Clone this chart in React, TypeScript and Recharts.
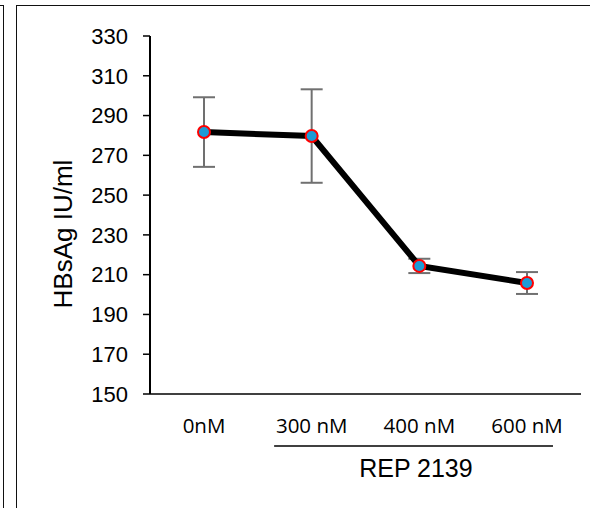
import React from 'react';
import { ComposedChart, Line, XAxis, YAxis, ErrorBar } from 'recharts';

const categories = ['0nM', '300 nM', '400 nM', '600 nM'];
const hbsagValues = [281.7, 279.7, 214.4, 205.8];
const errorValues = [17.5, 23.5, 3.6, 5.5];
const yTicks = [150, 170, 190, 210, 230, 250, 270, 290, 310, 330];
const yAxisTitle = 'HBsAg IU/ml';
const groupTitle = 'REP 2139';

const data = categories.map((c, i) => ({ name: c, value: hbsagValues[i], err: errorValues[i] }));

const XTick = (props: any) => {
  const { x, y, payload } = props;
  return (
    <text x={x} y={y} dy={39} textAnchor="middle" fontFamily="Open Sans" fontSize={20.5} fill="#000">
      {payload.value}
    </text>
  );
};

const XLabel = (props: any) => {
  const vb = props.viewBox || {};
  const x0 = vb.x + vb.width * 0.288;
  const x1 = vb.x + vb.width * 0.935;
  const ly = vb.y + 52;
  return (
    <g>
      <line x1={x0} x2={x1} y1={ly} y2={ly} stroke="#000" strokeWidth={1.5} />
      <text x={vb.x + vb.width * 0.617} y={vb.y + 83} textAnchor="middle" fontFamily="Liberation Sans" fontSize={25} fill="#000">
        {groupTitle}
      </text>
    </g>
  );
};

const YLabel = (props: any) => {
  const vb = props.viewBox || {};
  const cx = vb.x + 72;
  const cy = vb.y + vb.height / 2 + 19;
  return (
    <text x={cx} y={cy} transform={`rotate(-90, ${cx}, ${cy})`} textAnchor="middle" fontFamily="Liberation Sans" fontSize={26} fill="#000">
      {yAxisTitle}
    </text>
  );
};

export default function App() {
  return (
    <div style={{ position: 'absolute', left: 0, top: 0, width: 590, height: 508, background: '#fff', overflow: 'hidden' }}>
      <div style={{ position: 'absolute', left: -20, top: 5, width: 24, height: 600, border: '1.5px solid #111', boxSizing: 'border-box' }} />
      <div style={{ position: 'absolute', left: 16, top: 5, width: 700, height: 700, border: '1.5px solid #111', boxSizing: 'border-box' }} />
      <div style={{ position: 'absolute', left: 0, top: 0 }}>
        <ComposedChart width={590} height={508} data={data} margin={{ top: 36, right: 9, bottom: 0, left: 0 }}>
          <XAxis
            dataKey="name"
            height={114}
            padding={{ left: 54, right: 54 }}
            tickLine={false}
            tickSize={0}
            tickMargin={0}
            axisLine={{ stroke: '#000', strokeWidth: 1.5 }}
            tick={<XTick />}
            interval={0}
            label={<XLabel />}
          />
          <YAxis
            width={150}
            domain={[150, 330]}
            ticks={yTicks}
            interval={0}
            tickSize={7}
            tickMargin={15}
            axisLine={{ stroke: '#000', strokeWidth: 2 }}
            tickLine={{ stroke: '#000', strokeWidth: 1.5 }}
            tick={{ fontFamily: 'Liberation Sans', fontSize: 22, fill: '#000' }}
            label={<YLabel />}
          />
          <Line
            dataKey="value"
            stroke="#000"
            strokeWidth={6}
            isAnimationActive={false}
            dot={{ r: 6, fill: '#1E9BD6', stroke: '#FF0000', strokeWidth: 2 }}
            activeDot={false}
          >
            <ErrorBar dataKey="err" width={11} stroke="#707070" strokeWidth={2} direction="y" />
          </Line>
        </ComposedChart>
      </div>
    </div>
  );
}
